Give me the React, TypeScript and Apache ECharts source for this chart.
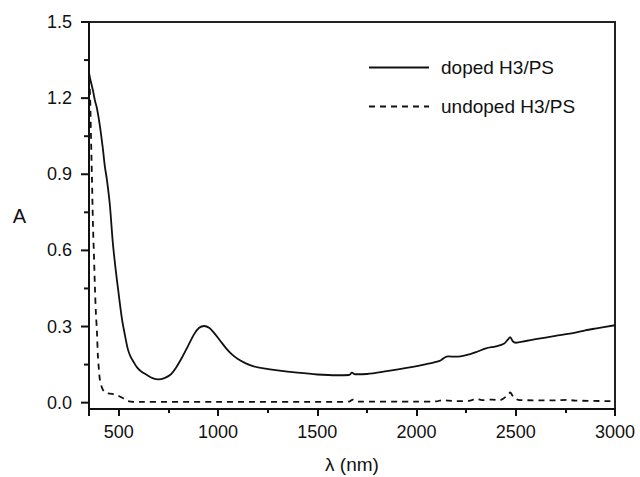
import React, { useEffect, useRef } from "react";
import * as echarts from "echarts";

const dopedX = [350, 355, 370, 380, 390, 405, 420, 430, 440, 455, 470, 485, 496, 516, 530, 546, 560, 575, 591, 610, 640, 670, 700, 730, 760, 790, 820, 850, 880, 905, 930, 955, 980, 1010, 1040, 1070, 1100, 1140, 1180, 1230, 1300, 1400, 1500, 1600, 1660, 1675, 1690, 1750, 1850, 1950, 2050, 2120, 2140, 2160, 2200, 2250, 2300, 2350, 2400, 2440, 2460, 2472, 2485, 2500, 2550, 2600, 2700, 2800, 2850, 2900, 3000];
const dopedY = [1.30, 1.28, 1.23, 1.19, 1.16, 1.09, 1.00, 0.93, 0.88, 0.78, 0.63, 0.52, 0.45, 0.33, 0.27, 0.21, 0.18, 0.16, 0.14, 0.125, 0.11, 0.097, 0.092, 0.097, 0.11, 0.14, 0.18, 0.225, 0.27, 0.295, 0.302, 0.295, 0.275, 0.245, 0.215, 0.19, 0.172, 0.155, 0.143, 0.135, 0.127, 0.118, 0.111, 0.108, 0.109, 0.118, 0.112, 0.113, 0.124, 0.137, 0.152, 0.166, 0.177, 0.182, 0.181, 0.187, 0.199, 0.214, 0.222, 0.232, 0.248, 0.258, 0.242, 0.236, 0.243, 0.25, 0.263, 0.276, 0.285, 0.292, 0.305];

const undopedX = [350, 355, 360, 365, 370, 375, 380, 385, 390, 395, 400, 405, 415, 425, 440, 466, 490, 520, 540, 560, 600, 1000, 1600, 1660, 1680, 1700, 2000, 2100, 2130, 2160, 2200, 2270, 2300, 2330, 2380, 2420, 2460, 2472, 2490, 2520, 2700, 2760, 2800, 3000];
const undopedY = [1.28, 1.22, 1.05, 0.88, 0.70, 0.58, 0.45, 0.35, 0.28, 0.18, 0.13, 0.09, 0.06, 0.045, 0.037, 0.035, 0.03, 0.018, 0.008, 0.004, 0.003, 0.003, 0.003, 0.004, 0.012, 0.004, 0.004, 0.005, 0.01, 0.008, 0.006, 0.008, 0.015, 0.01, 0.012, 0.01, 0.03, 0.04, 0.02, 0.01, 0.009, 0.011, 0.008, 0.006];

const yMajor = [0, 0.3, 0.6, 0.9, 1.2, 1.5];
const yMinor = [0.15, 0.45, 0.75, 1.05, 1.35];

const seriesNames = ["doped H3/PS", "undoped H3/PS"];

const FONT = "Liberation Sans, Arial, sans-serif";

export default function App() {
  const ref = useRef<HTMLDivElement>(null);
  useEffect(() => {
    const chart = echarts.init(ref.current!, null, { renderer: "svg" });
    const ink = "#111";
    const X_MIN = 350;
    chart.setOption({
      animation: false,
      grid: {
        left: 89,
        right: 25,
        top: 22,
        bottom: 68,
        outerBoundsMode: "none",
        show: true,
        borderColor: "#222",
        borderWidth: 2,
        backgroundColor: "transparent",
      },
      legend: {
        orient: "vertical",
        left: 363,
        top: 53,
        itemWidth: 60,
        itemHeight: 14,
        itemGap: 20,
        itemStyle: { opacity: 0 },
        textStyle: { fontSize: 19, color: ink, fontFamily: FONT, padding: [0, 0, 0, 7] },
        data: seriesNames,
      },
      xAxis: {
        type: "value",
        min: X_MIN,
        max: 3000,
        splitNumber: 5,
        splitLine: { show: false },
        name: "λ (nm)",
        nameLocation: "middle",
        nameGap: 46,
        nameTextStyle: { fontSize: 19, color: ink, fontFamily: FONT },
        axisLine: { show: true, onZero: false, lineStyle: { color: ink, width: 2 } },
        axisTick: { show: true, inside: false, length: 7, lineStyle: { color: ink, width: 2 } },
        minorTick: { show: true, splitNumber: 2, length: 4, lineStyle: { color: ink, width: 2 } },
        axisLabel: {
          fontSize: 18,
          color: ink,
          fontFamily: FONT,
          margin: 14,
          showMinLabel: false,
          formatter: (v: number) => String(v),
        },
      },
      yAxis: {
        type: "value",
        min: -0.025,
        max: 1.5,
        splitNumber: 5,
        splitLine: { show: false },
        name: "A",
        nameLocation: "middle",
        nameRotate: 0,
        nameGap: 63,
        nameTextStyle: { fontSize: 20, color: ink, fontFamily: FONT },
        axisLine: { show: true, onZero: false, lineStyle: { color: ink, width: 2 } },
        axisTick: { show: false },
        axisLabel: {
          fontSize: 18,
          color: ink,
          fontFamily: FONT,
          margin: 17,
          showMinLabel: false,
          formatter: (v: number) => v.toFixed(1),
        },
      },
      series: [
        {
          name: seriesNames[0],
          type: "line",
          symbol: "none",
          smooth: 0.3,
          lineStyle: { color: ink, width: 1.8 },
          itemStyle: { color: ink },
          data: dopedX.map((x, i) => [x, dopedY[i]]),
        },
        {
          name: seriesNames[1],
          type: "line",
          symbol: "none",
          smooth: 0.3,
          lineStyle: { color: ink, width: 1.8, type: [6, 5] },
          itemStyle: { color: ink },
          data: undopedX.map((x, i) => [x, undopedY[i]]),
        },
      ],
    });
    // Y-axis ticks placed through the axis scale (positions from convertToPixel), on a top layer
    const tickEl = (v: number, len: number) => {
      const p = chart.convertToPixel({ gridIndex: 0 }, [X_MIN, v]) as number[];
      return {
        type: "rect",
        zlevel: 5,
        z: 100,
        silent: true,
        shape: { x: p[0] - len - 1, y: p[1] - 1, width: len + 1, height: 2 },
        style: { fill: ink },
      };
    };
    chart.setOption({
      graphic: {
        elements: [...yMajor.map((v) => tickEl(v, 7)), ...yMinor.map((v) => tickEl(v, 4))],
      },
    });
    return () => chart.dispose();
  }, []);
  return <div ref={ref} style={{ width: 640, height: 477, position: "absolute", left: 0, top: 0 }} />;
}
